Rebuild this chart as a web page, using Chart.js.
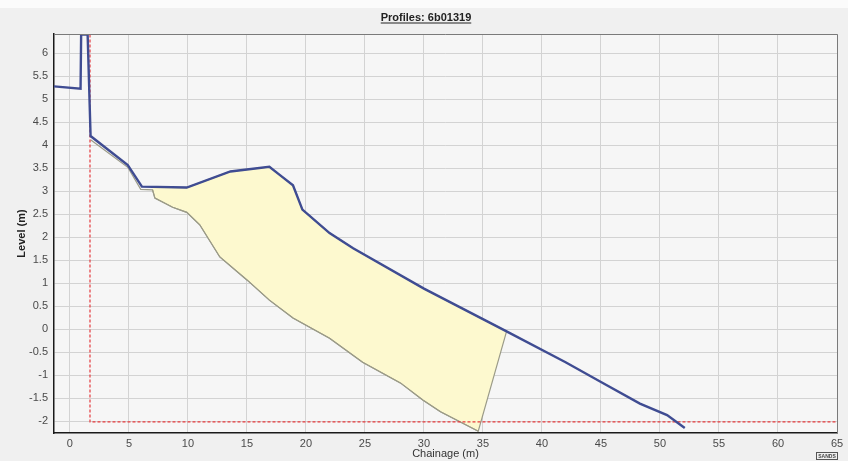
<!DOCTYPE html>
<html>
<head>
<meta charset="utf-8">
<script src="https://cdn.jsdelivr.net/npm/chart.js@4.4.1/dist/chart.umd.min.js"></script>
<style>
  html, body { margin: 0; padding: 0; background: #f0f0f0; }
  #wrap { width: 848px; height: 461px; }
</style>
</head>
<body>
<div id="wrap"><canvas id="profileChart" width="848" height="461"></canvas></div>
<script>
// surveyed profile (blue)
const profileChainage = [-1.35, 0.9, 0.95, 1.5, 1.75, 4.9, 6.1, 9.9, 13.6, 16.9, 17.8, 18.9, 19.7, 22.0, 24.0, 30.0, 37.0, 42.0, 45.0, 48.3, 50.6, 52.1];
const profileLevel    = [5.28, 5.23, 6.41, 6.41, 4.2, 3.57, 3.1, 3.08, 3.43, 3.53, 3.35, 3.13, 2.6, 2.09, 1.76, 0.88, -0.05, -0.72, -1.15, -1.62, -1.87, -2.15];

// earlier profile (grey)
const lowerChainage = [1.75, 4.9, 6.0, 7.0, 7.2, 8.7, 9.9, 11.0, 12.7, 15.0, 16.9, 18.9, 22.0, 24.8, 28.0, 29.9, 31.4, 34.6];
const lowerLevel    = [4.12, 3.52, 3.04, 3.03, 2.85, 2.65, 2.54, 2.27, 1.57, 1.07, 0.63, 0.24, -0.2, -0.72, -1.17, -1.54, -1.8, -2.22];

// red limit line
const limitChainage = [1.7, 1.7, 65];
const limitLevel    = [6.41, -2.02, -2.02];

const xTicks = [0, 5, 10, 15, 20, 25, 30, 35, 40, 45, 50, 55, 60, 65];
const yTicks = [-2, -1.5, -1, -0.5, 0, 0.5, 1, 1.5, 2, 2.5, 3, 3.5, 4, 4.5, 5, 5.5, 6];

const areaStart = 7.0;
const areaEnd = 37.0;

function toPoints(xs, ys) {
    return xs.map((x, i) => ({ x: x, y: ys[i] }));
}

// yellow area: top follows the blue profile, bottom follows the grey one
const areaPoints = [{ x: areaStart, y: 3.09 }]
    .concat(toPoints(profileChainage, profileLevel).filter(p => p.x > areaStart && p.x <= areaEnd))
    .concat(toPoints(lowerChainage, lowerLevel).filter(p => p.x >= areaStart).reverse());

const tickFont = { family: "'Liberation Sans', Arial, sans-serif", size: 11 };

const framePlugin = {
    id: 'frame',
    beforeDraw(chart) {
        const c = chart.ctx, a = chart.chartArea;
        c.save();
        c.fillStyle = '#f0f0f0';
        c.fillRect(0, 0, chart.width, chart.height);
        c.fillStyle = '#fbfbfb';
        c.fillRect(0, 0, chart.width, 8);
        c.fillStyle = '#f6f6f6';
        c.fillRect(a.left, a.top, a.right - a.left, a.bottom - a.top);
        c.restore();
    },
    afterDraw(chart) {
        const c = chart.ctx, a = chart.chartArea;
        c.save();
        c.strokeStyle = '#7a7a7a';
        c.lineWidth = 1;
        c.beginPath();
        c.moveTo(a.left, a.top + 0.5);
        c.lineTo(a.right + 0.5, a.top + 0.5);
        c.lineTo(a.right + 0.5, a.bottom);
        c.stroke();

        // title
        c.font = "bold 11px 'Liberation Sans', Arial, sans-serif";
        c.fillStyle = '#222';
        c.textAlign = 'center';
        c.textBaseline = 'alphabetic';
        const title = 'Profiles: 6b01319';
        c.fillText(title, 426, 21);
        const w = c.measureText(title).width;
        c.fillRect(426 - w / 2, 22.5, w, 1);

        // logo box
        c.strokeStyle = '#555';
        c.strokeRect(816.5, 452.5, 21, 7);
        c.font = "bold 5px 'Liberation Sans', Arial, sans-serif";
        c.fillStyle = '#444';
        c.textBaseline = 'middle';
        c.fillText('SANDS', 827, 456.2);
        c.restore();
    }
};

new Chart(document.getElementById('profileChart'), {
    type: 'scatter',
    data: {
        datasets: [
            {
                label: 'Profile',
                data: toPoints(profileChainage, profileLevel),
                showLine: true,
                borderColor: '#3f4c92',
                borderWidth: 2.4,
                pointRadius: 0,
                tension: 0,
                order: 1
            },
            {
                label: 'Limit',
                data: toPoints(limitChainage, limitLevel),
                showLine: true,
                borderColor: '#e5393b',
                borderWidth: 1.2,
                borderDash: [3, 2],
                pointRadius: 0,
                order: 2
            },
            {
                label: 'Previous',
                data: toPoints(lowerChainage, lowerLevel),
                showLine: true,
                borderColor: '#9b9b88',
                borderWidth: 1.2,
                pointRadius: 0,
                order: 3
            },
            {
                label: 'Change',
                data: areaPoints,
                showLine: true,
                fill: 'shape',
                backgroundColor: '#fdf9cf',
                borderColor: '#9b9b88',
                borderWidth: 1.2,
                pointRadius: 0,
                order: 4
            }
        ]
    },
    options: {
        responsive: false,
        animation: false,
        layout: { padding: { top: 34, right: 11, left: 0, bottom: 0 } },
        plugins: {
            legend: { display: false },
            tooltip: { enabled: false }
        },
        scales: {
            x: {
                type: 'linear',
                min: -1.35,
                max: 65,
                afterBuildTicks: s => { s.ticks = xTicks.map(v => ({ value: v })); },
                afterFit: s => { s.height = 28; },
                ticks: { font: tickFont, color: '#4a4a4a', padding: 4, maxRotation: 0, callback: v => String(v) },
                grid: { color: '#d3d3d3', drawTicks: false },
                border: { color: '#1a1a1a', width: 1.5 },
                title: {
                    display: true,
                    text: 'Chainage (m)',
                    font: { family: "'Liberation Sans', Arial, sans-serif", size: 11 },
                    color: '#333',
                    padding: { top: 0, bottom: 0 }
                }
            },
            y: {
                type: 'linear',
                min: -2.26,
                max: 6.42,
                afterBuildTicks: s => { s.ticks = yTicks.map(v => ({ value: v })); },
                afterFit: s => { s.width = 54; },
                ticks: { font: tickFont, color: '#4a4a4a', padding: 6, callback: v => String(v) },
                grid: { color: '#d3d3d3', drawTicks: false },
                border: { color: '#1a1a1a', width: 1.5 },
                title: {
                    display: true,
                    text: 'Level (m)',
                    font: { family: "'Liberation Sans', Arial, sans-serif", size: 11, weight: 'bold' },
                    color: '#222',
                    padding: { top: 15, bottom: 0 }
                }
            }
        }
    },
    plugins: [framePlugin]
});
</script>
</body>
</html>
